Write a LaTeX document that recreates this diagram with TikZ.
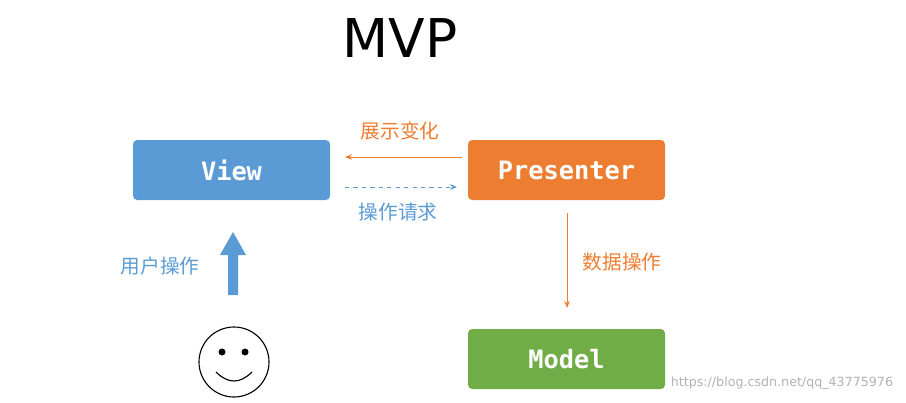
\documentclass[tikz,border=0pt]{standalone}
\usepackage{fontspec}
\setmainfont{DejaVu Sans}
\newfontfamily\cjk{Noto Sans CJK SC}
\newfontfamily\mono{DejaVu Sans Mono}
\usetikzlibrary{arrows.meta}
\definecolor{viewblue}{RGB}{91,155,213}
\definecolor{presorange}{RGB}{237,125,49}
\definecolor{modelgreen}{RGB}{112,173,71}
\begin{document}
\begin{tikzpicture}[x=0.025cm,y=-0.025cm]
    \tikzstyle{box}=[rounded corners=3pt,minimum width=197*0.025cm,minimum height=60*0.025cm,text=white,font=\mono\bfseries\fontsize{18}{20}\selectfont]
    \tikzstyle{label}=[font=\cjk\fontsize{14}{16}\selectfont]
    \tikzstyle{link}=[-{Stealth[length=5pt,width=4pt]},semithick]

    \useasboundingbox (0,0) rectangle (906,402);

    \node[font=\fontsize{38}{40}\selectfont] (title) at (400,38) {MVP};

    % Boxes
    \node[style=box,fill=viewblue] (view) at (231.5,170) {View};
    \node[style=box,fill=presorange] (pres) at (566.5,170) {Presenter};
    \node[style=box,fill=modelgreen] (model) at (566.5,359) {Model};

    \coordinate (a_1) at (462,157);
    \coordinate (b_1) at (345,157);
    \coordinate (a_2) at (345,187);
    \coordinate (b_2) at (457,187);
    \coordinate (a_3) at (567,213);
    \coordinate (b_3) at (567,308);

    % Arrows
    \draw[style=link,color=presorange] (a_1) -- (b_1);
    \node[style=label,text=presorange] (show) at (400,131) {展示变化};
    \draw[style=link,color=viewblue,dashed] (a_2) -- (b_2);
    \node[style=label,text=viewblue] (req) at (398,212) {操作请求};
    \draw[style=link,color=presorange] (a_3) -- (b_3);
    \node[style=label,text=presorange] (data) at (622,262) {数据操作};

    % User
    \fill[viewblue] (228,295) -- (228,255) -- (220,255) -- (233,232) -- (246,255) -- (238,255) -- (238,295) -- cycle;
    \node[style=label,text=viewblue] (user) at (160,266) {用户操作};
    \node[circle,draw,thick,minimum size=70*0.025cm] (face) at (234,362) {};
    \fill (222,352) circle (3.5*0.025cm);
    \fill (245,352) circle (3.5*0.025cm);
    \draw[thick] (216,372) .. controls (228,384) and (240,384) .. (252,372);

    \node[text=gray!60,font=\fontsize{9}{10}\selectfont,anchor=east] (mark) at (898,383) {https://blog.csdn.net/qq\_43775976};
\end{tikzpicture}
\end{document}
